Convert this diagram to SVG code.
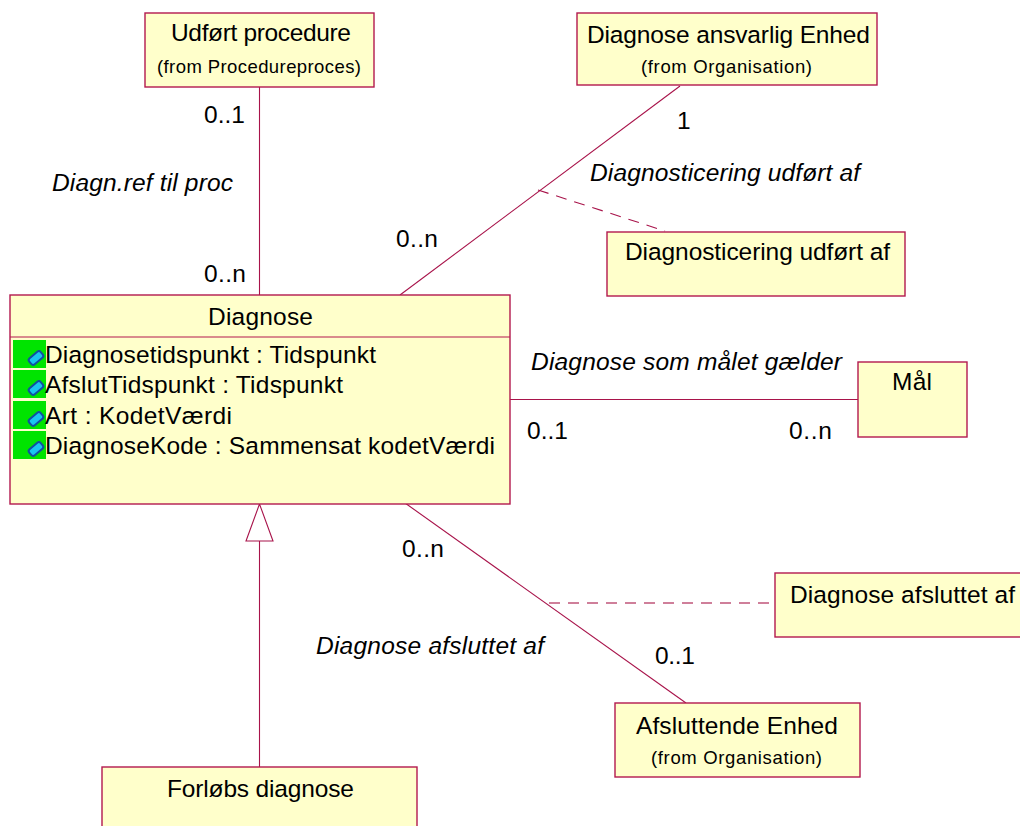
<svg xmlns="http://www.w3.org/2000/svg" width="1020" height="826" viewBox="0 0 1020 826">
<style>
text{font-family:"Liberation Sans",Arial,sans-serif;fill:#000;font-size:24.5px}
.box{fill:#ffffcb;stroke:#b3194e;stroke-width:1.4}
.s{font-size:18.5px}
.i{font-style:italic}
.ln{fill:none;stroke:#a8134a;stroke-width:1.1}
.d{stroke-dasharray:11 8}
.g{fill:#00e400}
.ic{fill:#19c5f0;stroke:#1050a0;stroke-width:2}
</style>
<defs>
<g id="attr"><rect class="g" x="13" y="0" width="33" height="28"/><rect class="ic" x="-7.500" y="-4" width="15" height="8" rx="2.500" transform="translate(36 18) rotate(-40)"/></g>
</defs>
<g id="connectors">
<line class="ln" x1="259.500" y1="87" x2="259.500" y2="295"/>
<line class="ln" x1="680" y1="86" x2="400" y2="295"/>
<line class="ln d" x1="538" y1="190" x2="665" y2="231"/>
<line class="ln" x1="510" y1="399.500" x2="858" y2="399.500"/>
<line class="ln" x1="405" y1="503" x2="686" y2="703"/>
<line class="ln d" style="stroke:#c0557a;stroke-width:1.5" x1="549" y1="603" x2="775" y2="603"/>
<line class="ln" x1="259.500" y1="541" x2="259.500" y2="767"/>
<polygon points="259.500,504 246,541 273,541" fill="#fff" stroke="#a8134a" stroke-width="1.1"/>
</g>
<g id="udfort"><rect class="box" x="145" y="13" width="229" height="74"/><text x="171" y="41" textLength="180">Udført procedure</text><text class="s" x="157" y="73" textLength="204">(from Procedureproces)</text></g>
<g id="ansvarlig"><rect class="box" x="577" y="13" width="300" height="72"/><text x="587" y="43" textLength="283">Diagnose ansvarlig Enhed</text><text class="s" x="641" y="73" textLength="171">(from Organisation)</text></g>
<g id="diagnosticering"><rect class="box" x="607" y="232" width="298" height="64"/><text x="625" y="260" textLength="265">Diagnosticering udført af</text></g>
<g id="diagnose"><rect class="box" x="10" y="295" width="500" height="209"/><line x1="10" y1="337" x2="510" y2="337" stroke="#b3194e" stroke-width="1.2"/>
<text x="208" y="325" textLength="105">Diagnose</text>
<use href="#attr" y="340"/><use href="#attr" y="370"/><use href="#attr" y="401"/><use href="#attr" y="431"/>
<text x="45" y="363" textLength="331">Diagnosetidspunkt : Tidspunkt</text><text x="45" y="393" textLength="298">AfslutTidspunkt : Tidspunkt</text><text x="45" y="424" textLength="187">Art : KodetVærdi</text><text x="45" y="454" textLength="450">DiagnoseKode : Sammensat kodetVærdi</text></g>
<g id="maal"><rect class="box" x="858" y="362" width="109" height="75"/><text x="892" y="390" textLength="40">Mål</text></g>
<g id="afsluttet"><rect class="box" x="775" y="573" width="250" height="64"/><text x="790" y="603" textLength="225">Diagnose afsluttet af</text></g>
<g id="enhed"><rect class="box" x="615" y="703" width="245" height="74"/><text x="636" y="734" textLength="202">Afsluttende Enhed</text><text class="s" x="651" y="764" textLength="171">(from Organisation)</text></g>
<g id="forlob"><rect class="box" x="102" y="767" width="315" height="70"/><text x="167" y="797" textLength="187">Forløbs diagnose</text></g>
<g id="labels">
<text x="204" y="123" textLength="41">0..1</text><text x="204" y="282" textLength="42">0..n</text><text class="i" x="52" y="191" textLength="181">Diagn.ref til proc</text>
<text x="677" y="129">1</text><text x="396" y="247" textLength="42">0..n</text><text class="i" x="590" y="181" textLength="270">Diagnosticering udført af</text>
<text class="i" x="531" y="370" textLength="311">Diagnose som målet gælder</text><text x="527" y="439" textLength="41">0..1</text><text x="789" y="439" textLength="43">0..n</text>
<text x="402" y="557" textLength="42">0..n</text><text class="i" x="316" y="654" textLength="228">Diagnose afsluttet af</text><text x="655" y="664" textLength="40">0..1</text>
</g>
</svg>
